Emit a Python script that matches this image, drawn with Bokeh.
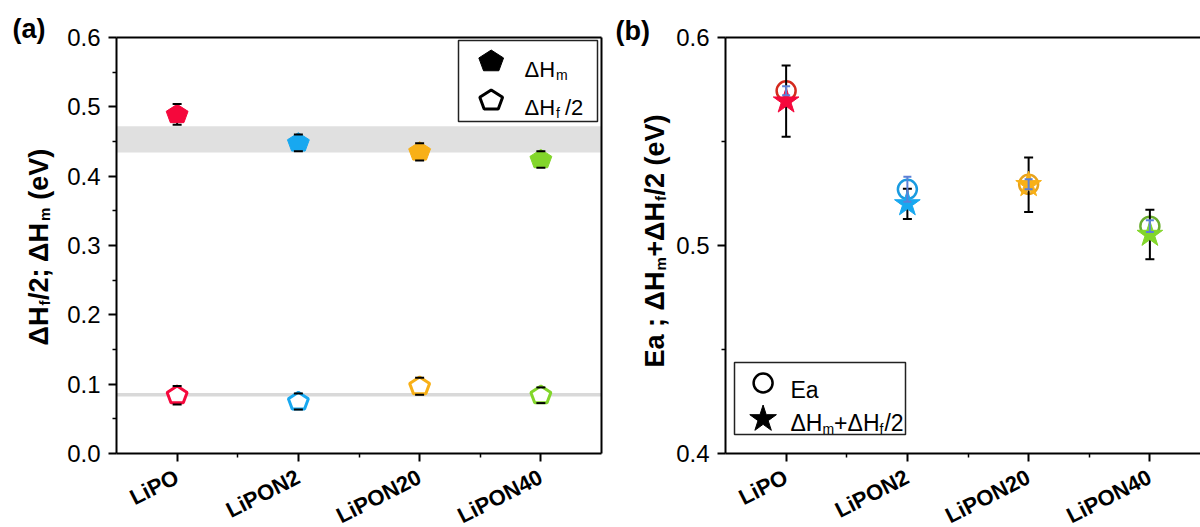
import math
from bokeh.plotting import figure
from bokeh.models import (FixedTicker, BoxAnnotation, Label, LinearAxis,
                          PrintfTickFormatter)
from bokeh.layouts import row
from bokeh.embed import file_html
from bokeh.resources import INLINE

# ---------------- data ----------------
samples = ["LiPO", "LiPON2", "LiPON20", "LiPON40"]
# panel (a)
dHm = [0.489, 0.448, 0.435, 0.424]
dHm_err = [0.015, 0.012, 0.0125, 0.012]
dHf2 = [0.084, 0.075, 0.097, 0.084]
dHf2_err = [0.0135, 0.0116, 0.0123, 0.0113]
band_range = [0.434, 0.472]
dHf2_ref = 0.0847
yticks_a = [0.0, 0.1, 0.2, 0.3, 0.4, 0.5, 0.6]
yminor_a = [0.05, 0.15, 0.25, 0.35, 0.45, 0.55]
# panel (b)
Ea = [0.5744, 0.5270, 0.5294, 0.5093]
Ea_err = [0.0022, 0.0060, 0.0024, 0.0028]
dHsum = [0.5694, 0.5200, 0.5292, 0.5053]
dHsum_err = [0.0171, 0.0073, 0.0131, 0.0119]
yticks_b = [0.4, 0.5, 0.6]
yminor_b = [0.45, 0.55]

marker_colors = ["#f5083c", "#18a8f0", "#f8b017", "#82d62a"]
circle_colors = ["#d42a1e", "#1a9be0", "#e9a31b", "#6aad2e"]
ea_err_color = "#5b80d6"

xs = [i + 1 for i in range(len(samples))]
xminor = [i + 1.5 for i in range(len(samples) - 1)]

# ---------------- layout constants (pixels) ----------------
FONT = "Liberation Sans"
FIG_H = 527
BOX_TOP, BOX_BOTTOM = 37, 453          # plot box, page y
W_A, BOX_LEFT_A, BOX_RIGHT_A = 608, 116, 601
W_B, BOX_LEFT_B, BOX_RIGHT_B = 592, 725, 1200
X0, XA1 = 0.5, 4.5
PX_PER_CAT = (BOX_RIGHT_A - BOX_LEFT_A) / (XA1 - X0)
XB1 = X0 + (BOX_RIGHT_B - BOX_LEFT_B) / PX_PER_CAT
PENT_SQUASH = 0.88                     # pentagons look slightly flattened

REG = {'Δ': 0.667, 'H': 0.722, 'm': 0.833, 'f': 0.278, '/': 0.278, '2': 0.556,
       '+': 0.584, ' ': 0.278, 'E': 0.667, 'a': 0.556, ';': 0.278, '(': 0.333,
       ')': 0.333, 'e': 0.556, 'V': 0.667}
BOLD = dict(REG, **{'Δ': 0.74, 'm': 0.889, 'f': 0.333, ';': 0.333})


def text_w(s, size, bold=False):
    tab = BOLD if bold else REG
    return sum(tab.get(c, 0.556) for c in s) * size


class Geom:
    """Maps page pixels to data units; the plot box spans xr x yr."""
    def __init__(self, page_left, width, box_l, box_r, xr, yr):
        self.pl, self.w = page_left, width
        self.bl, self.br = box_l, box_r
        self.bt, self.bb = BOX_TOP, BOX_BOTTOM
        self.x0, self.x1 = xr
        self.y0, self.y1 = yr

    def ux(self):
        return (self.x1 - self.x0) / (self.br - self.bl)

    def uy(self):
        return (self.y1 - self.y0) / (self.bb - self.bt)

    def dx(self, px):
        return self.x0 + (px - self.bl) * self.ux()

    def dy(self, py):
        return self.y1 - (py - self.bt) * self.uy()

    def full_x(self):
        return (self.dx(self.pl), self.dx(self.pl + self.w))

    def full_y(self):
        return (self.dy(FIG_H), self.dy(0))


def make_fig(g, yt, ym, box_lines):
    p = figure(width=g.w, height=FIG_H, x_range=g.full_x(), y_range=g.full_y(),
               output_backend="svg", toolbar_location=None,
               x_axis_location=None, y_axis_location=None,
               min_border_left=0, min_border_right=0, min_border_top=0, min_border_bottom=0)
    p.grid.visible = False
    p.outline_line_color = None
    p.background_fill_color = "white"
    p.border_fill_color = "white"

    def style(ax):
        ax.axis_line_width = 2
        ax.axis_line_color = "black"
        ax.major_tick_line_width = 2
        ax.minor_tick_line_width = 1.5
        ax.major_tick_out, ax.major_tick_in = 8, 0
        ax.minor_tick_out, ax.minor_tick_in = 4, 0
        ax.major_label_text_font = FONT
        ax.major_label_text_color = "black"

    xa = LinearAxis(fixed_location=g.y0, bounds=(g.x0, g.x1),
                    ticker=FixedTicker(ticks=xs, minor_ticks=xminor))
    style(xa)
    xa.major_label_overrides = {x: s for x, s in zip(xs, samples)}
    xa.major_label_orientation = math.radians(27)
    xa.major_label_text_font_size = "22px"
    xa.major_label_text_font_style = "bold"
    xa.major_label_standoff = 14
    p.add_layout(xa, "below")

    ya = LinearAxis(fixed_location=g.x0, bounds=(g.y0, g.y1),
                    ticker=FixedTicker(ticks=yt, minor_ticks=ym),
                    formatter=PrintfTickFormatter(format="%.1f"))
    style(ya)
    ya.major_label_text_font_size = "24px"
    ya.major_label_standoff = 8
    p.add_layout(ya, "left")

    # plain frame lines (no ticks) on the top and, optionally, right side
    for side in box_lines:
        if side == "above":
            ax = LinearAxis(fixed_location=g.y1, bounds=(g.x0, g.x1))
        else:
            ax = LinearAxis(fixed_location=g.x1, bounds=(g.y0, g.y1))
        ax.ticker = FixedTicker(ticks=[])
        ax.axis_line_width = 2
        ax.axis_line_color = "black"
        ax.major_tick_out = ax.major_tick_in = 0
        ax.minor_tick_out = ax.minor_tick_in = 0
        ax.major_label_text_font_size = "0px"
        p.add_layout(ax, side)
    return p


def pentagon_coords(g, cx, cy, r):
    px, py = [], []
    for x, y in zip(cx, cy):
        px.append([x + r * math.cos(math.radians(90 + 72 * k)) * g.ux() for k in range(5)])
        py.append([y + PENT_SQUASH * r * math.sin(math.radians(90 + 72 * k)) * g.uy()
                   for k in range(5)])
    return px, py


def bar_lines(p, x, y, err, color, lw=2):
    lo = [v - e for v, e in zip(y, err)]
    hi = [v + e for v, e in zip(y, err)]
    p.segment(x0=x, y0=lo, x1=x, y1=hi, line_color=color, line_width=lw)


def bar_caps(p, x, y, err, color, cap=9, lw=2):
    lo = [v - e for v, e in zip(y, err)]
    hi = [v + e for v, e in zip(y, err)]
    p.scatter(x=x + x, y=lo + hi, marker="dash", size=cap, line_color=color, line_width=lw)


def label(p, g, text, px, py, size, bold, angle=0.0):
    p.add_layout(Label(x=g.dx(px), y=g.dy(py), angle=angle, text=text, text_font=FONT,
                       text_font_size=f"{size}px",
                       text_font_style="bold" if bold else "normal",
                       text_align="left", text_baseline="alphabetic",
                       text_color="black"))


def rich_vertical(p, g, pieces, base_px, start_py):
    # text rotated 90 degrees, reading bottom to top
    pos = 0.0
    for text, size, bold, drop, gap in pieces:
        pos += gap
        label(p, g, text, base_px + drop, start_py - pos, size, bold, math.pi / 2)
        pos += text_w(text, size, bold)


def rich_horizontal(p, g, pieces, start_px, base_py):
    pos = 0.0
    for text, size, bold, drop, gap in pieces:
        pos += gap
        label(p, g, text, start_px + pos, base_py + drop, size, bold)
        pos += text_w(text, size, bold)


# ======================= panel (a) =======================
ga = Geom(0, W_A, BOX_LEFT_A, BOX_RIGHT_A, (X0, XA1), (0.0, 0.6))
pa = make_fig(ga, yticks_a, yminor_a, ["above", "right"])

pa.add_layout(BoxAnnotation(left=ga.x0, right=ga.x1, bottom=band_range[0], top=band_range[1],
                            fill_color="#e0e0e0", fill_alpha=1, line_color=None,
                            level="underlay"))
pa.segment(x0=[ga.x0], x1=[ga.x1], y0=[dHf2_ref], y1=[dHf2_ref],
           line_color="#d9d9d9", line_width=3.5)

bar_lines(pa, xs, dHm, dHm_err, "black")
bar_lines(pa, xs, dHf2, dHf2_err, "black")
px_, py_ = pentagon_coords(ga, xs, dHm, 11.5)
pa.patches(px_, py_, fill_color=marker_colors, line_color=marker_colors, line_width=1)
px_, py_ = pentagon_coords(ga, xs, dHf2, 10.5)
pa.patches(px_, py_, fill_color="white", line_color=marker_colors, line_width=3)
bar_caps(pa, xs, dHm, dHm_err, "black")
bar_caps(pa, xs, dHf2, dHf2_err, "black")

# legend (a)
pa.quad(left=[ga.dx(458)], right=[ga.dx(597)], top=[ga.dy(40)], bottom=[ga.dy(121)],
        fill_color="white", line_color="#222222", line_width=1.5)
lx, ly = pentagon_coords(ga, [ga.dx(490.7)], [ga.dy(61)], 13)
pa.patches(lx, ly, fill_color="black", line_color="black")
lx, ly = pentagon_coords(ga, [ga.dx(490.7)], [ga.dy(100)], 12)
pa.patches(lx, ly, fill_color="white", line_color="black", line_width=3)
rich_horizontal(pa, ga, [("ΔH", 22, False, 0, 0), ("m", 14, False, 5.5, 1)], 524, 69)
rich_horizontal(pa, ga, [("ΔH", 22, False, 0, 0), ("f", 14, False, 5, 1),
                         ("/2", 22, False, 0, 5)], 524, 107)

# axis label and panel letter (a)
rich_vertical(pa, ga, [("ΔH", 27, True, 0, 0), ("f", 15, True, 6, 0.5),
                       ("/2; ΔH", 27, True, 0, 0.5), ("m", 15, True, 6, 0.5),
                       ("(eV)", 27, True, 0, 8)], 38, 345)
label(pa, ga, "(a)", 12, 28, 27, True)

# ======================= panel (b) =======================
gb = Geom(W_A, W_B, BOX_LEFT_B, BOX_RIGHT_B, (X0, XB1), (0.4, 0.6))
pb = make_fig(gb, yticks_b, yminor_b, ["above"])

pb.scatter(x=xs, y=Ea, marker="circle", size=19, fill_color=None,
           line_color=circle_colors, line_width=2.5)
bar_lines(pb, xs, dHsum, dHsum_err, "black")
bar_caps(pb, xs, dHsum, dHsum_err, "black")
pb.scatter(x=xs, y=dHsum, marker="star", size=27, fill_color=marker_colors,
           line_color=marker_colors, line_width=1)
bar_lines(pb, xs, Ea, Ea_err, ea_err_color)
bar_caps(pb, xs, Ea, Ea_err, ea_err_color, cap=8)

# legend (b)
pb.quad(left=[gb.dx(734)], right=[gb.dx(905)], top=[gb.dy(362)], bottom=[gb.dy(434)],
        fill_color="white", line_color="#222222", line_width=1.5)
pb.scatter(x=[gb.dx(762.6)], y=[gb.dy(382.5)], marker="circle", size=19, fill_color=None,
           line_color="black", line_width=2.5)
pb.scatter(x=[gb.dx(762.6)], y=[gb.dy(418.5)], marker="star", size=28, fill_color="black",
           line_color="black")
rich_horizontal(pb, gb, [("Ea", 23, False, 0, 0)], 790, 389)
rich_horizontal(pb, gb, [("ΔH", 23, False, 0, 0), ("m", 14, False, 6, 0),
                         ("+ΔH", 23, False, 0, 0), ("f", 14, False, 6, 0),
                         ("/2", 23, False, 0, 1)], 790, 422)

rich_vertical(pb, gb, [("Ea ; ΔH", 27, True, 0, 0), ("m", 15, True, 6, 0.5),
                       ("+ΔH", 27, True, 0, 0.5), ("f", 15, True, 6, 0.5),
                       ("/2 (eV)", 27, True, 0, 0.5)], 654, 367)
label(pb, gb, "(b)", 615, 30, 27, True)

layout = row(pa, pb)
open("out.html", "w").write(file_html(layout, INLINE))
